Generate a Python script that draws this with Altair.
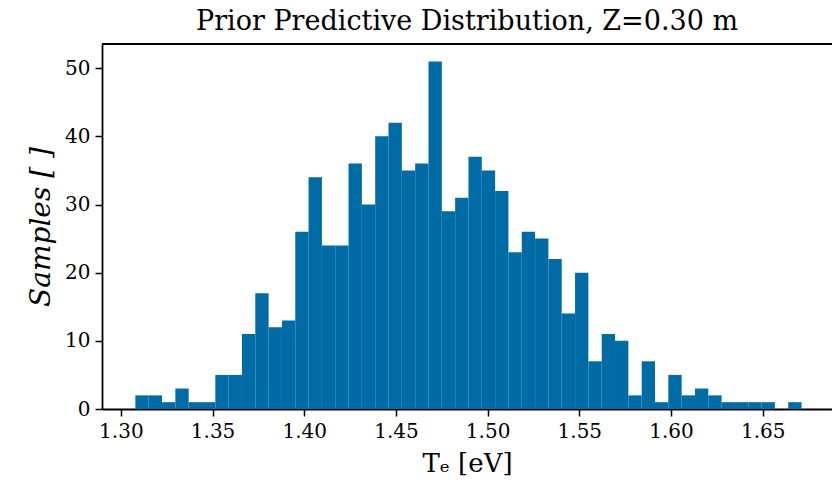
import altair as alt
import numpy as np
import pandas as pd

# Histogram (50 bins)
bin_lo = 1.3079
bin_hi = 1.6712
counts = [2, 2, 1, 3, 1, 1, 5, 5, 11, 17,
          12, 13, 26, 34, 24, 24, 36, 30, 40, 42,
          35, 36, 51, 29, 31, 37, 35, 32, 23, 26,
          25, 22, 14, 20, 7, 11, 10, 2, 7, 1,
          5, 2, 3, 2, 1, 1, 1, 1, 0, 1]
x_ticks = [1.30, 1.35, 1.40, 1.45, 1.50, 1.55, 1.60, 1.65]
y_ticks = [0, 10, 20, 30, 40, 50]

edges = np.linspace(bin_lo, bin_hi, len(counts) + 1)
df = pd.DataFrame({"x0": edges[:-1], "x1": edges[1:], "count": counts})

FONT = "DejaVu Serif"
x_dom = [1.2897, 1.6878]
y_dom = [0, 53.55]

xs = alt.Scale(domain=x_dom, nice=False, zero=False)
ys = alt.Scale(domain=y_dom, nice=False)

bars = alt.Chart(df).mark_rect(color="#006BA4", clip=True).encode(
    x=alt.X("x0:Q", scale=xs,
            axis=alt.Axis(values=x_ticks, format=".2f", title="Tₑ [eV]",
                          titleFontSize=26, titleFontWeight="normal",
                          titlePadding=9, labelFontSize=20, labelPadding=5,
                          tickSize=7, tickWidth=1.5, domainWidth=1.8,
                          domainColor="black", tickColor="black",
                          labelColor="black", titleColor="black",
                          grid=False, labelFont=FONT, titleFont=FONT)),
    x2="x1:Q",
    y=alt.Y("count:Q", scale=ys,
            axis=alt.Axis(values=y_ticks, title="Samples [ ]",
                          titleFontSize=28, titleFontWeight="normal",
                          titleFontStyle="italic", titlePadding=9,
                          labelFontSize=20, labelPadding=5,
                          tickSize=7, tickWidth=1.5, domainWidth=1.8,
                          domainColor="black", tickColor="black",
                          labelColor="black", titleColor="black",
                          grid=False, labelFont=FONT, titleFont=FONT)),
    y2=alt.datum(0),
)

top_spine = alt.Chart(pd.DataFrame({"v": [y_dom[1]]})).mark_rule(
    color="black", strokeWidth=1.8).encode(y=alt.Y("v:Q", scale=ys))

chart = alt.layer(bars, top_spine).properties(
    width=730, height=365,
    title=alt.TitleParams("Prior Predictive Distribution, Z=0.30 m",
                          font=FONT, fontSize=27, fontWeight="normal",
                          color="black", offset=7),
    autosize=alt.AutoSizeParams(type="none"),
    padding={"left": 102, "top": 44, "right": 0, "bottom": 88},
).configure_view(stroke=None).configure(background="white")

chart.save("out.html", embed_options={"renderer": "svg", "actions": False})
